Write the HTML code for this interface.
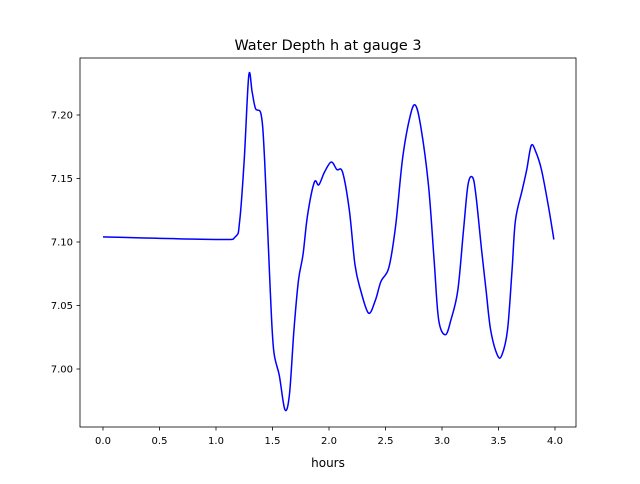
<!DOCTYPE html>
<html><head><meta charset="utf-8"><style>
body{margin:0;background:#fff;font-family:"DejaVu Sans","Liberation Sans",sans-serif}
svg text{font-family:"DejaVu Sans","Liberation Sans",sans-serif}
</style></head><body>
<svg id="chart" width="640" height="480" xmlns="http://www.w3.org/2000/svg">
<rect x="0" y="0" width="640" height="480" fill="#fff"/>
<text x="328" y="50" font-size="14.4" text-anchor="middle">Water Depth h at gauge 3</text>
<g id="axes"></g>
<text x="328" y="467" font-size="12" text-anchor="middle">hours</text>
</svg>
<script>
const hours=[0,1.0,1.17,1.21,1.25,1.29,1.32,1.35,1.40,1.43,1.48,1.51,1.56,1.61,1.65,1.69,1.73,1.77,1.81,1.87,1.91,1.96,2.02,2.07,2.12,2.18,2.23,2.28,2.35,2.41,2.46,2.53,2.59,2.65,2.71,2.76,2.81,2.88,2.93,2.97,3.03,3.08,3.14,3.19,3.23,3.27,3.30,3.35,3.39,3.43,3.49,3.53,3.58,3.62,3.65,3.71,3.75,3.79,3.83,3.88,3.94,3.99];
const depth=[7.104,7.102,7.104,7.117,7.165,7.231,7.218,7.205,7.200,7.165,7.062,7.015,6.995,6.968,6.980,7.031,7.070,7.090,7.121,7.147,7.145,7.155,7.163,7.157,7.155,7.125,7.082,7.062,7.044,7.054,7.069,7.080,7.113,7.165,7.196,7.208,7.192,7.145,7.086,7.039,7.027,7.039,7.062,7.109,7.145,7.151,7.137,7.094,7.062,7.031,7.011,7.011,7.031,7.078,7.117,7.141,7.157,7.176,7.171,7.157,7.129,7.102];
const xTicks=[0,0.5,1,1.5,2,2.5,3,3.5,4];
const xTickLabels=["0.0","0.5","1.0","1.5","2.0","2.5","3.0","3.5","4.0"];
const yTicks=[7.00,7.05,7.10,7.15,7.20];
const yTickLabels=["7.00","7.05","7.10","7.15","7.20"];
const L=80,R=576,T=58,B=427;
const sx=v=>103+v*113;
const sy=v=>115-(v-7.20)*1270;
const ns="http://www.w3.org/2000/svg";
const g=document.getElementById('axes');
function el(t,a){const e=document.createElementNS(ns,t);for(const k in a)e.setAttribute(k,a[k]);g.appendChild(e);return e;}
// line (catmull-rom smooth)
const pts=hours.map((h,i)=>[sx(h),sy(depth[i])]);
let d="M"+pts[0][0]+","+pts[0][1];
for(let i=0;i<pts.length-1;i++){const p0=pts[Math.max(0,i-1)],p1=pts[i],p2=pts[i+1],p3=pts[Math.min(pts.length-1,i+2)];
d+=" C"+(p1[0]+(p2[0]-p0[0])/6)+","+(p1[1]+(p2[1]-p0[1])/6)+" "+(p2[0]-(p3[0]-p1[0])/6)+","+(p2[1]-(p3[1]-p1[1])/6)+" "+p2[0]+","+p2[1];}
const line=el('path',{d:d,fill:'none',stroke:'#0000ff','stroke-width':1.5});


const frame=el('rect',{x:L,y:T,width:R-L,height:B-T,fill:'none',stroke:'#000','stroke-width':0.8});


xTicks.forEach((v,i)=>{const x=sx(v);
const t=el('line',{x1:x,x2:x,y1:B,y2:B+3.5,stroke:'#000','stroke-width':0.8});


const tx=el('text',{x:x,y:B+17,'font-size':10,'text-anchor':'middle'});tx.textContent=xTickLabels[i];

});
yTicks.forEach((v,i)=>{const y=sy(v);
const t=el('line',{x1:L-3.5,x2:L,y1:y,y2:y,stroke:'#000','stroke-width':0.8});


const tx=el('text',{x:L-7,y:y+3.5,'font-size':10,'text-anchor':'end'});tx.textContent=yTickLabels[i];

});
</script>
</body></html>
